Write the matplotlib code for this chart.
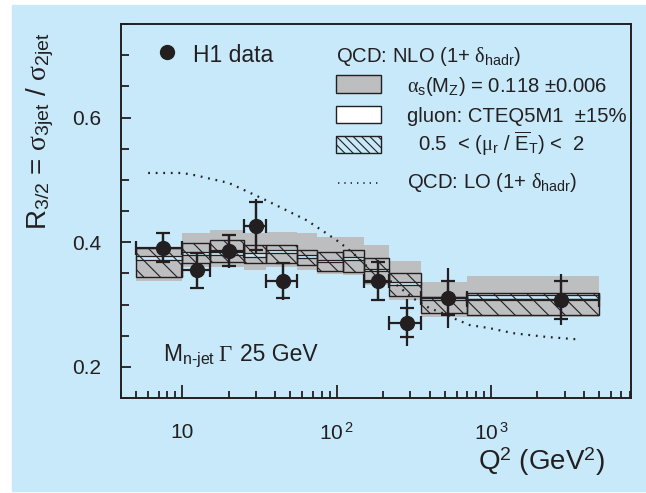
import numpy as np
import matplotlib
matplotlib.use("Agg")
import matplotlib.pyplot as plt
from matplotlib.patches import Rectangle
from matplotlib.lines import Line2D
from matplotlib.ticker import LogLocator, NullFormatter, MultipleLocator

plt.rcParams['font.family'] = ['Liberation Sans', 'DejaVu Sans']
plt.rcParams['mathtext.fontset'] = 'custom'
plt.rcParams['mathtext.rm'] = 'Liberation Sans'
plt.rcParams['mathtext.it'] = 'Liberation Serif'
plt.rcParams['mathtext.bf'] = 'Liberation Sans:bold'
plt.rcParams['hatch.linewidth'] = 0.8

# ---------------- data ----------------
# theory bins (Q^2 edges)
bin_lo = [5, 10, 15, 25, 35, 55, 75, 110, 150, 218, 352, 700]
bin_hi = [10, 15, 25, 35, 55, 75, 110, 150, 218, 352, 700, 5000]
# alpha_s band
alpha_lo = [0.337, 0.360, 0.360, 0.355, 0.360, 0.355, 0.349, 0.347, 0.331, 0.307, 0.280, 0.280]
alpha_hi = [0.391, 0.414, 0.419, 0.414, 0.417, 0.414, 0.408, 0.408, 0.395, 0.370, 0.336, 0.345]
# gluon band
gluon_lo = [0.372, 0.379, 0.380, 0.377, 0.382, 0.375, 0.368, 0.372, 0.353, 0.331, 0.308, 0.309]
gluon_hi = [0.378, 0.384, 0.385, 0.382, 0.387, 0.379, 0.372, 0.376, 0.357, 0.336, 0.311, 0.315]
# renormalisation scale band
scale_lo = [0.344, 0.366, 0.368, 0.366, 0.366, 0.363, 0.354, 0.352, 0.336, 0.314, 0.286, 0.283]
scale_hi = [0.391, 0.398, 0.403, 0.395, 0.395, 0.388, 0.384, 0.387, 0.374, 0.351, 0.312, 0.318]

# LO curve
lo_q2 = [6.0, 10, 12.3, 15, 20, 35, 52, 64, 86, 104, 128, 172, 210, 232, 269, 312, 400,
         489, 597, 728, 982, 1390, 1782, 2287, 3663]
lo_r = [0.511, 0.511, 0.507, 0.502, 0.495, 0.467, 0.446, 0.435, 0.414, 0.400, 0.382, 0.352,
        0.339, 0.336, 0.323, 0.310, 0.294, 0.286, 0.276, 0.267, 0.262, 0.254, 0.251, 0.248, 0.244]

# H1 data
data_q2 = [7.5, 12.4, 20, 30, 45, 185, 286, 526, 2860]
data_q2_lo = [5, 10, 15, 25, 35, 150, 218, 352, 700]
data_q2_hi = [10, 15, 25, 35, 55, 218, 352, 700, 5000]
data_r = [0.391, 0.355, 0.386, 0.426, 0.338, 0.338, 0.271, 0.310, 0.3075]
err_stat = [0.0235, 0.028, 0.025, 0.038, 0.028, 0.030, 0.0235, 0.027, 0.030]
err_tot = [0.025, 0.030, 0.027, 0.044, 0.030, 0.033, 0.038, 0.048, 0.041]

yticks = [0.2, 0.4, 0.6]
ytick_labels = ['0.2', '0.4', '0.6']
xticks = [10, 100, 1000]
xtick_labels = ['10', r'10$^{\,\mathrm{2}}$', r'10$^{\,\mathrm{3}}$']

# ---------------- style ----------------
BLUE = '#c7e9f9'
GREY = '#bdbec0'
INK = '#231f20'
W, H = 646, 493

fig = plt.figure(figsize=(W / 100, H / 100), dpi=100)
fig.patch.set_facecolor('white')
fig.patches.append(Rectangle((12 / W, 2 / H), 1 - 12 / W, (H - 7) / H,
                             transform=fig.transFigure, color=BLUE, zorder=-10))

L, R, T, B = 121, 630.7, 24, 398
ax = fig.add_axes([L / W, 1 - B / H, (R - L) / W, (B - T) / H])
ax.set_facecolor(BLUE)
ax.set_xscale('log')
ax.set_xlim(4, 8040)
ax.set_ylim(0.15, 0.75)

lo = np.array(bin_lo, float)
hi = np.array(bin_hi, float)
wid = hi - lo

# alpha_s band
ax.bar(lo, np.array(alpha_hi) - np.array(alpha_lo), width=wid, bottom=alpha_lo,
       align='edge', color=GREY, edgecolor='none', lw=0, zorder=1)
# gluon band
ax.bar(lo, np.array(gluon_hi) - np.array(gluon_lo), width=wid, bottom=gluon_lo,
       align='edge', color=BLUE, edgecolor=INK, lw=0.9, zorder=2)
# scale band
ax.bar(lo, np.array(scale_hi) - np.array(scale_lo), width=wid, bottom=scale_lo,
       align='edge', facecolor='none', edgecolor=INK, hatch='\\\\', lw=1.0, zorder=3)

# LO curve
ax.plot(lo_q2, lo_r, color=INK, lw=1.6, linestyle=(0, (0.8, 2.6)), zorder=4)

# data
dq = np.array(data_q2, float)
xerr = [dq - np.array(data_q2_lo), np.array(data_q2_hi) - dq]
ax.errorbar(data_q2, data_r, yerr=err_tot, fmt='none', ecolor=INK, elinewidth=1.6,
            capsize=0, zorder=5)
ax.errorbar(data_q2, data_r, yerr=err_stat, xerr=xerr, fmt='o', color=INK, ms=10,
            ecolor=INK, elinewidth=1.6, capsize=5, capthick=1.6, zorder=6)

# axes styling
for s in ax.spines.values():
    s.set_color(INK)
    s.set_linewidth(1.4)
ax.set_xticks(xticks)
ax.set_xticklabels(xtick_labels)
ax.xaxis.set_minor_locator(LogLocator(base=10, subs=np.arange(2, 10)))
ax.xaxis.set_minor_formatter(NullFormatter())
ax.set_yticks(yticks)
ax.set_yticklabels(ytick_labels)
ax.yaxis.set_minor_locator(MultipleLocator(0.05))
ax.tick_params(axis='both', which='both', direction='in', color=INK, width=1.3,
               top=False, right=False, labelsize=15, labelcolor=INK)
ax.tick_params(axis='x', which='major', length=9.5, pad=18)
ax.tick_params(axis='x', which='minor', length=5)
ax.tick_params(axis='y', which='major', length=7.5, pad=14)
ax.tick_params(axis='y', which='minor', length=5.5)

ax.set_ylabel(r'$\mathrm{R}_{\mathrm{3/2}}$ = $\sigma_{\mathrm{3jet}}$ / $\sigma_{\mathrm{2jet}}$',
              fontsize=20, color=INK, va='center', ha='center')
ax.yaxis.set_label_coords((40 - L) / (R - L), (B - 131) / (B - T))
ax.set_xlabel(r'Q$^{\mathrm{2}}$ (GeV$^{\mathrm{2}}$)', fontsize=20, color=INK,
              va='center', ha='center')
ax.xaxis.set_label_coords((542 - L) / (R - L), (B - 462) / (B - T))


def axx(px):
    return (px - L) / (R - L)


def axy(py):
    return (B - py) / (B - T)


tA = ax.transAxes
# H1 data legend
ax.add_line(Line2D([axx(166.7)], [axy(51.7)], marker='o', ms=10, color=INK,
                   transform=tA, clip_on=False))
ax.text(axx(193), axy(61.7), 'H1 data', fontsize=16.5, color=INK, transform=tA,
        va='baseline', ha='left')

# theory legend
LFS = 14.6
ax.text(axx(336), axy(62.3), r'QCD: NLO (1+ $\delta_{\mathrm{hadr}}$)', fontsize=LFS,
        color=INK, transform=tA, va='baseline')
bx0, bx1 = axx(336), axx(381)
ax.add_patch(Rectangle((bx0, axy(92.7)), bx1 - bx0, axy(75) - axy(92.7), transform=tA,
                       facecolor=GREY, edgecolor=INK, lw=1.0))
ax.add_patch(Rectangle((bx0, axy(122.7)), bx1 - bx0, axy(106) - axy(122.7), transform=tA,
                       facecolor='white', edgecolor=INK, lw=1.0))
ax.add_patch(Rectangle((bx0, axy(152.7)), bx1 - bx0, axy(136) - axy(152.7), transform=tA,
                       facecolor='none', edgecolor=INK, hatch='\\\\\\\\', lw=1.0))
ax.add_line(Line2D([axx(338), axx(381)], [axy(183.3), axy(183.3)], color=INK, lw=1.2,
                   linestyle=(0, (0.8, 3.0)), transform=tA))
ax.text(axx(406.7), axy(91.7), r'$\alpha_{\mathrm{s}}$(M$_{\mathrm{Z}}$) = 0.118 ±0.006',
        fontsize=LFS, color=INK, transform=tA, va='baseline')
ax.text(axx(406.7), axy(121.7), 'gluon: CTEQ5M1  ±15%', fontsize=LFS, color=INK,
        transform=tA, va='baseline')
ax.text(axx(418), axy(150.7),
        r'0.5  < ($\mu_{\mathrm{r}}$ / $\overline{\mathrm{E}}_{\mathrm{T}}$) <  2',
        fontsize=LFS, color=INK, transform=tA, va='baseline')
ax.text(axx(406.7), axy(188.3), r'QCD: LO (1+ $\delta_{\mathrm{hadr}}$)', fontsize=LFS,
        color=INK, transform=tA, va='baseline')

# cut annotation
ax.text(axx(162.7), axy(360.7), r'M$_{\mathrm{n\text{-}jet}}$', fontsize=16.5, color=INK,
        transform=tA, va='baseline')
ax.text(axx(218), axy(360.7), 'Γ', fontsize=16.5, color=INK, transform=tA,
        va='baseline', family=['Liberation Serif'])
ax.text(axx(240), axy(360.7), '25 GeV', fontsize=16.5, color=INK, transform=tA,
        va='baseline')

fig.savefig('out.png', dpi=100, facecolor='white')
